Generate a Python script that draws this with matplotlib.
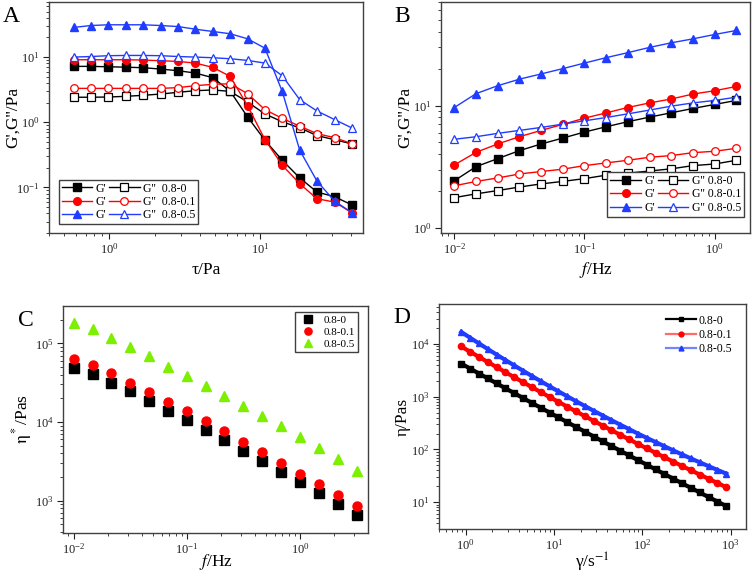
import matplotlib
matplotlib.use("Agg")
import matplotlib.pyplot as plt
from matplotlib.ticker import LogLocator, NullFormatter
from matplotlib.lines import Line2D

plt.rcParams['font.family'] = ['Liberation Serif', 'DejaVu Serif']
plt.rcParams['mathtext.fontset'] = 'stix'

# ---------------- Panel A: stress sweep ----------------
tau = [0.583, 0.759, 0.990, 1.29, 1.68, 2.19, 2.86, 3.72, 4.86, 6.33, 8.25,
       10.76, 14.0, 18.3, 23.8, 31.1, 40.5]
A_Gp_0 = [7.2, 7.2, 7.1, 7.0, 6.87, 6.55, 6.18, 5.69, 4.83, 3.0, 1.21,
          0.53, 0.262, 0.14, 0.085, 0.072, 0.054]
A_Gpp_0 = [2.42, 2.42, 2.44, 2.5, 2.59, 2.71, 2.88, 3.05, 3.13, 2.98, 2.05,
           1.34, 1.02, 0.82, 0.625, 0.54, 0.466]
A_Gp_01 = [9.1, 9.1, 9.1, 9.1, 9.0, 8.79, 8.58, 8.09, 6.95, 5.06, 1.8,
           0.543, 0.22, 0.114, 0.067, 0.0597, 0.041]
A_Gpp_01 = [3.31, 3.31, 3.31, 3.31, 3.31, 3.31, 3.40, 3.64, 3.82, 3.9, 2.75,
            1.56, 1.15, 0.87, 0.67, 0.58, 0.47]
A_Gp_05 = [28.5, 30.5, 31.3, 31.3, 31.3, 30.5, 29.4, 26.8, 24.7, 22.8, 19.1,
           13.7, 2.98, 0.372, 0.125, 0.0618, 0.041]
A_Gpp_05 = [10.0, 10.2, 10.5, 10.6, 10.6, 10.5, 10.2, 10.0, 9.77, 9.43, 8.89,
            8.09, 5.18, 2.22, 1.49, 1.1, 0.819]

# ---------------- Panel B: frequency sweep ----------------
freqB = [0.01, 0.0147, 0.0215, 0.0316, 0.0464, 0.0681, 0.1, 0.147, 0.215,
         0.316, 0.464, 0.681, 1.0, 1.468]
B_Gp_0 = [2.43, 3.17, 3.68, 4.28, 4.85, 5.42, 6.07, 6.71, 7.37, 8.04, 8.72,
          9.46, 10.2, 11.0]
B_Gpp_0 = [1.77, 1.90, 2.02, 2.16, 2.29, 2.40, 2.53, 2.70, 2.80, 2.92, 3.04,
           3.23, 3.33, 3.57]
B_Gp_01 = [3.27, 4.15, 4.85, 5.56, 6.26, 7.01, 7.88, 8.71, 9.63, 10.5, 11.3,
           12.4, 13.2, 14.3]
B_Gpp_01 = [2.21, 2.40, 2.56, 2.76, 2.89, 3.02, 3.23, 3.40, 3.57, 3.78, 3.90,
            4.12, 4.23, 4.47]
B_Gp_05 = [9.63, 12.5, 14.5, 16.4, 18.1, 20.0, 22.2, 24.6, 27.0, 29.8, 32.5,
           35.0, 38.0, 41.0]
B_Gpp_05 = [5.3, 5.56, 5.92, 6.26, 6.62, 7.05, 7.5, 7.98, 8.55, 9.17, 9.88,
            10.5, 11.0, 11.7]

# ---------------- Panel C: complex viscosity ----------------
freqC = [0.01, 0.0147, 0.0215, 0.0316, 0.0464, 0.0681, 0.1, 0.147, 0.215,
         0.316, 0.464, 0.681, 1.0, 1.468, 2.154, 3.162]
C_eta_0 = [48100, 40300, 31600, 24500, 18600, 13900, 10500, 7870, 5870, 4290,
           3170, 2340, 1710, 1250, 898, 664]
C_eta_01 = [63100, 52500, 41500, 31600, 24000, 18100, 13600, 10300, 7650, 5640,
            4130, 3050, 2210, 1630, 1180, 847]
C_eta_05 = [180000, 152000, 118000, 90800, 68300, 50400, 38400, 28900, 21600,
            16100, 12000, 8860, 6410, 4690, 3360, 2370]

# ---------------- Panel D: steady shear viscosity ----------------
rate = [0.891, 1.122, 1.413, 1.778, 2.239, 2.818, 3.548, 4.467, 5.623, 7.079,
        8.913, 11.22, 14.13, 17.78, 22.39, 28.18, 35.48, 44.67, 56.23, 70.79,
        89.13, 112.2, 141.3, 177.8, 223.9, 281.8, 354.8, 446.7, 562.3, 707.9,
        891.3]
D_eta_0 = [4257, 3426, 2761, 2226, 1795, 1448, 1170, 945, 764, 619, 501, 406,
           329, 267, 217, 176, 143, 116.4, 94.7, 77.1, 62.9, 51.3, 41.8, 34.2,
           27.9, 22.8, 18.7, 15.3, 12.5, 10.3, 8.4]
D_eta_01 = [8985, 7155, 5705, 4560, 3649, 2924, 2347, 1887, 1519, 1225, 989,
            801, 649, 526, 428, 348, 284, 232, 190, 155.5, 127.6, 104.9, 86.4,
            71.2, 58.8, 48.6, 40.3, 33.4, 27.8, 23.1, 19.3]
D_eta_05 = [16940, 13170, 10270, 8040, 6310, 4970, 3925, 3110, 2473, 1971,
            1576, 1265, 1018, 822, 666, 541, 441, 360, 295, 243, 200, 166, 138,
            115, 95.9, 80.4, 67.5, 57.0, 48.2, 40.9, 34.8]

samples = ["0.8-0", "0.8-0.1", "0.8-0.5"]
BLACK, RED, BLUE, GREEN = "#000000", "#ff0000", "#1f3cff", "#7cf000"
SPINE = "#404040"
LABEL_FS = 12.5

fig = plt.figure(figsize=(7.56, 5.74), dpi=100)
W, H = 756.0, 574.0


def add_ax(l, r, t, b):
    return fig.add_axes([l / W, 1 - b / H, (r - l) / W, (b - t) / H])


def style(ax):
    ax.set_xscale('log')
    ax.set_yscale('log')
    for s in ax.spines.values():
        s.set_color(SPINE)
        s.set_linewidth(1.0)
    ax.tick_params(which='both', direction='out', top=False, right=False,
                   labelsize=9, colors='#222222', pad=2.5)
    ax.tick_params(which='major', length=4, width=0.8)
    ax.tick_params(which='minor', length=2.2, width=0.6)
    ax.xaxis.set_minor_locator(LogLocator(base=10, subs=range(2, 10), numticks=20))
    ax.yaxis.set_minor_locator(LogLocator(base=10, subs=range(2, 10), numticks=20))
    ax.xaxis.set_minor_formatter(NullFormatter())
    ax.yaxis.set_minor_formatter(NullFormatter())


def place_labels(ax, l, r, t, b, ylab_right_px, xlab_top_px):
    # y label: right edge at given pixel x; x label: top at given pixel y
    ax.yaxis.set_label_coords((ylab_right_px - l) / (r - l), 0.5)
    ax.xaxis.set_label_coords(0.5, (b - xlab_top_px) / (b - t))


boxA = (49, 363, 2, 233)
boxB = (441, 750, 2, 233)
boxC = (63, 368, 306, 533)
boxD = (439, 746, 304, 529)
axA = add_ax(*boxA)
axB = add_ax(*boxB)
axC = add_ax(*boxC)
axD = add_ax(*boxD)
for ax in (axA, axB, axC, axD):
    style(ax)

ms = 5.5


def gg_plot(ax, x, gp, gpp, color, marker):
    h1, = ax.plot(x, gp, color=color, marker=marker, ms=ms, lw=1.0,
                  mec=color, mfc=color)
    h2, = ax.plot(x, gpp, color=color, marker=marker, ms=ms, lw=1.0,
                  mec=color, mfc='white', mew=0.9)
    return h1, h2


# Panel A
hA = []
for gp, gpp, c, m in [(A_Gp_0, A_Gpp_0, BLACK, 's'), (A_Gp_01, A_Gpp_01, RED, 'o'),
                      (A_Gp_05, A_Gpp_05, BLUE, '^')]:
    hA.append(gg_plot(axA, tau, gp, gpp, c, m))
axA.set_xlim(0.40, 48)
axA.set_ylim(0.02, 70)
axA.set_xlabel('τ/Pa', fontsize=LABEL_FS)
axA.set_ylabel("G',G''/Pa", fontsize=LABEL_FS)
place_labels(axA, *boxA, ylab_right_px=21, xlab_top_px=262)
handles = [h[0] for h in hA] + [h[1] for h in hA]
labels = ["G'"] * 3 + ["G''  " + s for s in samples]
axA.legend(handles, labels, ncol=2, loc='lower left', fontsize=8.5,
           handlelength=2.6, handletextpad=0.3, columnspacing=0.2,
           labelspacing=0.12, borderpad=0.25, fancybox=False,
           edgecolor=SPINE, framealpha=1, bbox_to_anchor=(0.012, 0.012))

# Panel B
hB = []
for gp, gpp, c, m in [(B_Gp_0, B_Gpp_0, BLACK, 's'), (B_Gp_01, B_Gpp_01, RED, 'o'),
                      (B_Gp_05, B_Gpp_05, BLUE, '^')]:
    hB.append(gg_plot(axB, freqB, gp, gpp, c, m))
axB.set_xlim(0.0079, 1.87)
axB.set_ylim(0.91, 70)
axB.set_xlabel('$f$/Hz', fontsize=LABEL_FS)
axB.set_ylabel("G',G''/Pa", fontsize=LABEL_FS)
place_labels(axB, *boxB, ylab_right_px=413, xlab_top_px=260)
handles = [h[0] for h in hB] + [h[1] for h in hB]
labels = ["G'"] * 3 + ["G'' " + s for s in samples]
axB.legend(handles, labels, ncol=2, loc='lower right', fontsize=8.5,
           handlelength=2.6, handletextpad=0.3, columnspacing=0.2,
           labelspacing=0.12, borderpad=0.25, fancybox=False,
           edgecolor=SPINE, framealpha=1, bbox_to_anchor=(1.0, 0.045))

# Panel C
for y, c, m, s in [(C_eta_0, BLACK, 's', samples[0]), (C_eta_01, RED, 'o', samples[1]),
                   (C_eta_05, GREEN, '^', samples[2])]:
    axC.plot(freqC, y, ls='none', marker=m, ms=6.5, color=c, label=s)
axC.set_xlim(0.00805, 3.99)
axC.set_ylim(387, 299000)
axC.set_xlabel('$f$/Hz', fontsize=LABEL_FS)
axC.set_ylabel(r'$\mathrm{\eta}^*$/Pas', fontsize=LABEL_FS)
place_labels(axC, *boxC, ylab_right_px=34, xlab_top_px=552)
axC.legend(loc='upper right', fontsize=8, markerscale=0.8, handletextpad=0.6,
           handlelength=1.6, labelspacing=0.2, borderpad=0.3, fancybox=False,
           edgecolor=SPINE, framealpha=1, bbox_to_anchor=(0.985, 1.0))

# Panel D
for y, c, m, s in [(D_eta_0, BLACK, 's', samples[0]), (D_eta_01, RED, 'o', samples[1]),
                   (D_eta_05, BLUE, '^', samples[2])]:
    axD.plot(rate, y, color=c, marker=m, ms=4.5, lw=3.0, label=s)
axD.set_xlim(0.499, 1493)
axD.set_ylim(3.1, 57500)
axD.set_xlabel('γ/s$^{-1}$', fontsize=LABEL_FS)
axD.set_ylabel('η/Pas', fontsize=LABEL_FS)
place_labels(axD, *boxD, ylab_right_px=411, xlab_top_px=551)
d_handles = [Line2D([], [], color=BLACK, marker='s', ms=3.5, lw=1.6),
             Line2D([], [], color='#ff6a6a', marker='o', ms=3.5, lw=1.6, mfc=RED, mec=RED),
             Line2D([], [], color='#6f86ff', marker='^', ms=3.5, lw=1.6, mfc=BLUE, mec=BLUE)]
axD.legend(d_handles, samples, loc='upper right', fontsize=8.5, frameon=False,
           handlelength=2.6, handletextpad=0.2, labelspacing=0.2,
           bbox_to_anchor=(0.99, 1.0))

# Panel letters
for x, y, t in [(3, 22, 'A'), (394, 22, 'B'), (18, 326, 'C'), (393, 323, 'D')]:
    fig.text(x / W, 1 - y / H, t, fontsize=17, ha='left', va='baseline')

fig.savefig('out.png', dpi=100)
